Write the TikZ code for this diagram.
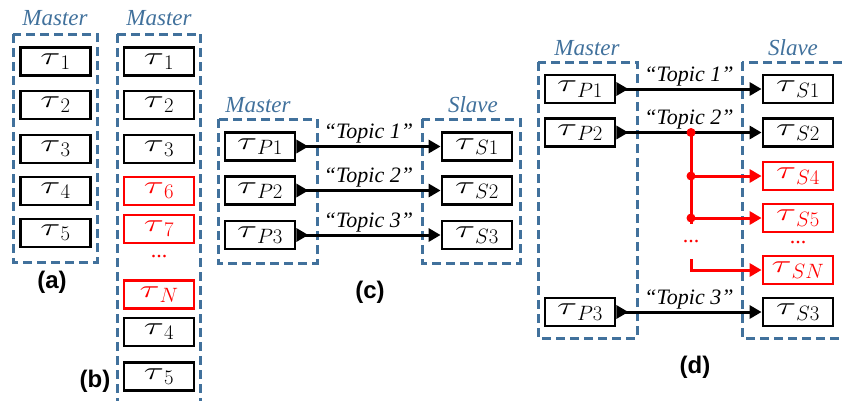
\documentclass[tikz,border=0pt]{standalone}
\usepackage{fontspec}
\usepackage{graphicx}
\setmainfont{Liberation Serif}
\newfontfamily\capfont{Liberation Sans}
\usetikzlibrary{arrows.meta}
\definecolor{dblue}{HTML}{41719C}
\newcommand{\tsym}[1]{$\scalebox{1.5}[1]{$\tau$}_{\mbox{\fontsize{22}{22}\selectfont$#1$}}$}
\tikzset{
  tbox/.style={draw=black, line width=2.8pt, minimum width=70pt, minimum height=28pt, inner sep=0pt, font=\fontsize{27}{28}\selectfont},
  rbox/.style={tbox, draw=red, text=red},
  dbox/.style={draw=dblue, line width=3pt, dash pattern=on 9pt off 5pt},
  lab/.style={text=dblue, font=\fontsize{23}{25}\selectfont\itshape},
  topic/.style={font=\fontsize{22}{24}\selectfont\itshape, above=-2pt, midway},
  captxt/.style={font=\fontsize{24}{26}\selectfont\capfont\bfseries},
  conn/.style={line width=3pt, {Triangle[reversed,length=12pt,width=13pt]}-{Triangle[length=12pt,width=13pt]}},
  rconn/.style={line width=3pt, red, -{Triangle[length=12pt,width=13pt]}},
  rdots/.style={text=red, inner sep=0pt, font=\fontsize{22}{24}\selectfont},
  jdot/.style={circle, fill=red, inner sep=0pt, minimum size=9pt}
}
\begin{document}
\begin{tikzpicture}[x=1pt,y=-1pt]
\useasboundingbox (0,0) rectangle (843,400);
% (a)
\draw[dbox] (13,34) rectangle (97,262);
\node[lab] (ma) at (55,18) {Master};
\node[tbox] (a1) at (55.5,61.5) {\tsym{1}};
\node[tbox] (a2) at (55.5,105) {\tsym{2}};
\node[tbox] (a3) at (55.5,149) {\tsym{3}};
\node[tbox] (a4) at (55.5,191) {\tsym{4}};
\node[tbox] (a5) at (55.5,233) {\tsym{5}};
\node[captxt] (ca) at (52,282) {(a)};
% (b)
\draw[dbox] (117,34) -- (117,410) (200,34) -- (200,410) (117,34) -- (200,34);
\node[lab] (mb) at (159,18) {Master};
\node[tbox] (b1) at (159,61.5) {\tsym{1}};
\node[tbox] (b2) at (159,105) {\tsym{2}};
\node[tbox] (b3) at (159,149) {\tsym{3}};
\node[rbox] (b6) at (159,191) {\tsym{6}};
\node[rbox] (b7) at (159,229) {\tsym{7}};
\node[rdots] (bd) at (159,257) {...};
\node[rbox] (bN) at (159,294.5) {\tsym{N}};
\node[tbox] (b4) at (159,332) {\tsym{4}};
\node[tbox] (b5) at (159,376.5) {\tsym{5}};
\node[captxt] (cb) at (95,381) {(b)};
% (c)
\draw[dbox] (218,119) rectangle (317,263);
\draw[dbox] (422,119) rectangle (520,263);
\node[lab] (mc) at (258,105) {Master};
\node[lab] (sc) at (473,105) {Slave};
\node[tbox] (cp1) at (260,146.5) {\tsym{P1}};
\node[tbox] (cp2) at (260,190.5) {\tsym{P2}};
\node[tbox] (cp3) at (260,235) {\tsym{P3}};
\node[tbox] (cs1) at (477,146.5) {\tsym{S1}};
\node[tbox] (cs2) at (477,190.5) {\tsym{S2}};
\node[tbox] (cs3) at (477,235) {\tsym{S3}};
\draw[conn] (cp1) -- node[topic] {“Topic 1”} (cs1);
\draw[conn] (cp2) -- node[topic] {“Topic 2”} (cs2);
\draw[conn] (cp3) -- node[topic] {“Topic 3”} (cs3);
\node[captxt] (cc) at (370,292) {(c)};
% (d)
\draw[dbox] (538,62) rectangle (637,338);
\draw[dbox] (742,62) rectangle (845,338);
\node[lab] (md) at (587,48) {Master};
\node[lab] (sd) at (793,48) {Slave};
\node[tbox] (dp1) at (580,89) {\tsym{P1}};
\node[tbox] (dp2) at (580,132.5) {\tsym{P2}};
\node[tbox] (dp3) at (580,312) {\tsym{P3}};
\node[tbox] (ds1) at (798,89) {\tsym{S1}};
\node[tbox] (ds2) at (798,132.5) {\tsym{S2}};
\node[rbox] (ds4) at (798,176) {\tsym{S4}};
\node[rbox] (ds5) at (798,218) {\tsym{S5}};
\node[rdots] (dd) at (798,243) {...};
\node[rbox] (dsN) at (798,270) {\tsym{SN}};
\node[tbox] (ds3) at (798,312) {\tsym{S3}};
\coordinate (j1) at (691,132.5);
\coordinate (j2) at (691,176);
\coordinate (j3) at (691,218);
\coordinate (j4) at (691,259);
\coordinate (j5) at (691,270);
\draw[line width=3pt, red] (j1) -- (691,224);
\draw[rconn] (j2) -- (ds4);
\draw[rconn] (j3) -- (ds5);
\draw[rconn] (j4) -- (j5) -- (dsN);
\node[rdots] (jd) at (691,242) {...};
\draw[conn] (dp1) -- node[topic] {“Topic 1”} (ds1);
\draw[conn] (dp2) -- node[topic] {“Topic 2”} (ds2);
\draw[conn] (dp3) -- node[topic] {“Topic 3”} (ds3);
\node[jdot] (jd1) at (j1) {};
\node[jdot] (jd2) at (j2) {};
\node[jdot] (jd3) at (j3) {};
\node[captxt] (cd) at (695,367) {(d)};
\end{tikzpicture}
\end{document}
